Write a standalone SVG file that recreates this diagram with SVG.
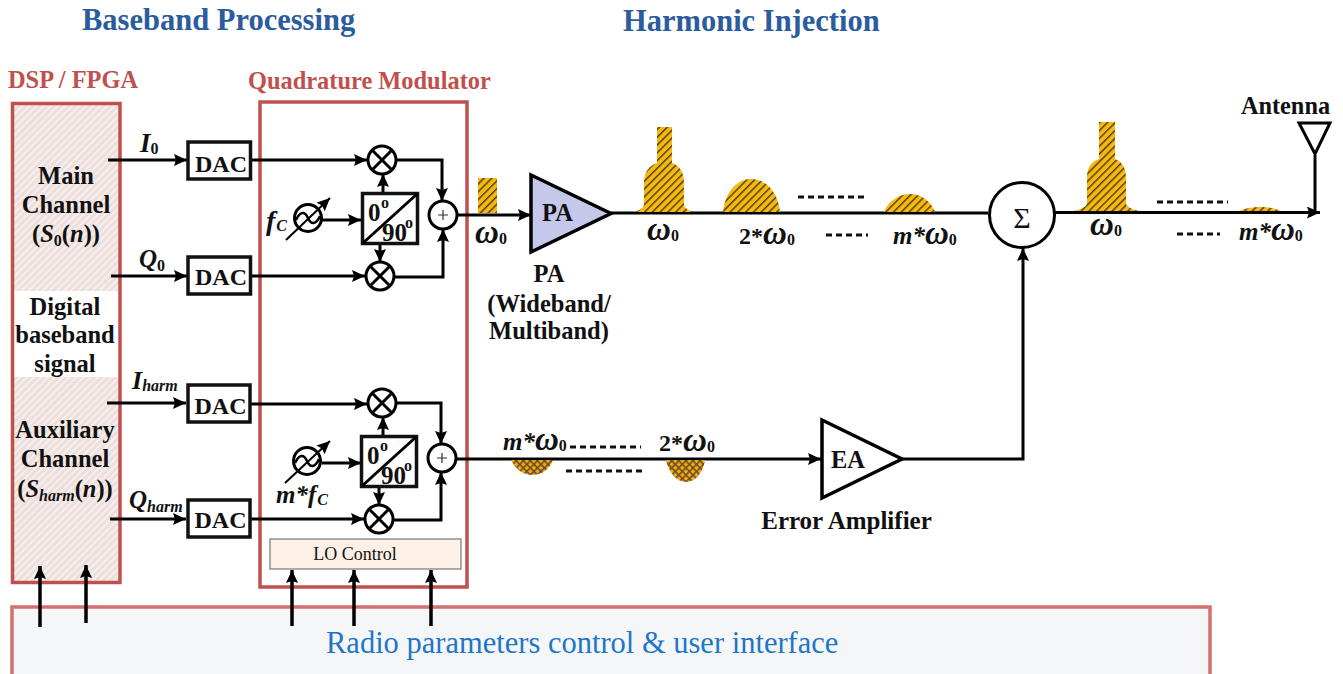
<svg xmlns="http://www.w3.org/2000/svg" width="1343" height="674" viewBox="0 0 1343 674">
<style>
text{font-family:"Liberation Serif","Times New Roman",serif;font-weight:bold;fill:#111}
.title{font-size:30.500px;fill:#2b5c9e}
.red{fill:#c0504d;font-size:24.400px}
.t22{font-size:24.500px;text-anchor:middle}
.lab{font-size:25px;font-style:italic}
.sub{font-size:16px}
.up{font-size:16px;font-style:normal}
.om{font-size:25px;font-style:italic}
.w{font-size:33px}
.dac{font-size:24px;text-anchor:middle}
.box{fill:#fff;stroke:#111;stroke-width:3.5}
.frame{stroke:#c0504d;stroke-width:3.5;fill:none}
.ln{fill:none;stroke:#000;stroke-width:3}
.ar{marker-end:url(#a)}
.ring{fill:#fff;stroke:#000;stroke-width:3}
.dash{fill:none;stroke:#111;stroke-width:3;stroke-dasharray:6 4}
.hat{fill:url(#h);stroke:none}
.cross{fill:url(#c);stroke:none}
</style>
<defs>
<marker id="a" markerUnits="userSpaceOnUse" markerWidth="14" markerHeight="12" refX="13" refY="6" orient="auto"><path d="M0 0L13 6L0 12L2 6Z" fill="#000"/></marker>
<pattern id="h" width="5.500" height="5.500" patternUnits="userSpaceOnUse" patternTransform="rotate(45)"><rect width="5.500" height="5.500" fill="#f6b90f"/><rect width="1.400" height="5.500" fill="#4a3a12"/></pattern>
<pattern id="c" width="5" height="5" patternUnits="userSpaceOnUse" patternTransform="rotate(45)"><rect width="5" height="5" fill="#f0b010"/><rect width="1.600" height="5" fill="#6a4a2a"/><rect width="5" height="1.600" fill="#6a4a2a"/></pattern>
<pattern id="p" width="5" height="5" patternUnits="userSpaceOnUse" patternTransform="rotate(45)"><rect width="5" height="5" fill="#eddfdc"/><rect width="1.500" height="5" fill="#f9f4f3"/></pattern>
<path id="sine" d="M-12 2C-8 -7 -3 -7 0 0C3 7 8 7 12 -2" fill="none" stroke="#000" stroke-width="2.500"/>
</defs>

<text class="title" x="82" y="30">Baseband Processing</text>
<text class="title" x="623" y="31">Harmonic Injection</text>

<g id="interface">
<rect x="12" y="607" width="1198" height="80" fill="#f5f6f8" stroke="#d2726e" stroke-width="3.5"/>
<text x="326" y="653" style="font-size:30.500px;font-weight:normal;fill:#1f76c6">Radio parameters control &amp; user interface</text>
</g>

<g id="dsp">
<rect x="13" y="104" width="107" height="187" fill="url(#p)"/>
<rect x="13" y="377" width="107" height="205" fill="url(#p)"/>
<rect class="frame" x="12.500" y="103.500" width="107.500" height="479"/>
<text class="red" x="8" y="88">DSP / FPGA</text>
<text class="t22" x="66" y="184">Main</text>
<text class="t22" x="66" y="213">Channel</text>
<text class="t22" x="66" y="242">(<tspan font-style="italic">S</tspan><tspan class="sub" dy="4">0</tspan><tspan dy="-4">(</tspan><tspan font-style="italic">n</tspan>))</text>
<text class="t22" x="65" y="315">Digital</text>
<text class="t22" x="65" y="343">baseband</text>
<text class="t22" x="65" y="372">signal</text>
<text class="t22" x="65" y="438">Auxiliary</text>
<text class="t22" x="65" y="467">Channel</text>
<text class="t22" x="65" y="497">(<tspan font-style="italic">S</tspan><tspan class="sub" font-style="italic" dy="4">harm</tspan><tspan dy="-4">(</tspan><tspan font-style="italic">n</tspan>))</text>
</g>

<g id="quadmod">
<rect class="frame" x="260" y="102" width="207" height="485"/>
<text class="red" x="248" y="89">Quadrature Modulator</text>
</g>

<g id="lo-control">
<rect x="270" y="539" width="191" height="30" fill="#fdf0e6" stroke="#777" stroke-width="1.200"/>
<text x="355" y="560" text-anchor="middle" style="font-size:18px;font-weight:normal">LO Control</text>
</g>

<g id="connectors">
<path class="ln ar" d="M108 160H187"/>
<path class="ln ar" d="M111 276H187"/>
<path class="ln ar" d="M107 403H186"/>
<path class="ln ar" d="M110 519H186"/>
<path class="ln ar" d="M251 160H367"/>
<path class="ln ar" d="M250 276H365"/>
<path class="ln ar" d="M250 404H367"/>
<path class="ln ar" d="M250 519H364"/>
<path class="ln ar" d="M397 160H442V201"/>
<path class="ln ar" d="M395 277H443V229"/>
<path class="ln ar" d="M397 403H441V444"/>
<path class="ln ar" d="M394 520H441V472"/>
<path class="ln ar" d="M383 193V174"/>
<path class="ln ar" d="M380 243V262"/>
<path class="ln ar" d="M383 437V417"/>
<path class="ln ar" d="M379 486V505"/>
<path class="ln ar" d="M322 220H361"/>
<path class="ln ar" d="M322 463H361"/>
<path class="ln ar" d="M457 215H531"/>
<path class="ln" d="M611 213H988"/>
<path class="ln ar" d="M1055 212.500H1320"/>
<path class="ln" d="M1315 155V212"/>
<path class="ln ar" d="M457 459H821"/>
<path class="ln ar" d="M902 459H1023V248"/>
<path class="ln ar" d="M40 627V566" style="stroke-width:3.500"/>
<path class="ln ar" d="M86 623V565" style="stroke-width:3.500"/>
<path class="ln ar" d="M292 626V570" style="stroke-width:3.500"/>
<path class="ln ar" d="M354 626V570" style="stroke-width:3.500"/>
<path class="ln ar" d="M431 626V570" style="stroke-width:3.500"/>
</g>

<g id="dac1"><rect class="box" x="188" y="142" width="62.500" height="37"/><text class="dac" x="221" y="172">DAC</text></g>
<g id="dac2"><rect class="box" x="188" y="257" width="62.500" height="37"/><text class="dac" x="221" y="285">DAC</text></g>
<g id="dac3"><rect class="box" x="188" y="385" width="62" height="37"/><text class="dac" x="220.500" y="414">DAC</text></g>
<g id="dac4"><rect class="box" x="188" y="500" width="62" height="37"/><text class="dac" x="220.500" y="528">DAC</text></g>

<g id="mix1"><circle class="ring" cx="382" cy="160" r="14"/><path class="ln" d="M372 150L392 170M392 150L372 170"/></g>
<g id="mix2"><circle class="ring" cx="380" cy="276" r="14"/><path class="ln" d="M370 266L390 286M390 266L370 286"/></g>
<g id="mix3"><circle class="ring" cx="382" cy="403" r="14"/><path class="ln" d="M372 393L392 413M392 393L372 413"/></g>
<g id="mix4"><circle class="ring" cx="379" cy="519" r="14"/><path class="ln" d="M369 509L389 529M389 509L369 529"/></g>

<g id="sum1"><circle class="ring" cx="443" cy="215" r="14"/><path d="M438 215H448M443 210V220" stroke="#333" stroke-width="1.200"/></g>
<g id="sum2"><circle class="ring" cx="442" cy="458" r="14"/><path d="M437 458H447M442 453V463" stroke="#333" stroke-width="1.200"/></g>

<g id="phase1">
<rect class="box" x="362.500" y="193.500" width="55" height="50"/><path class="ln" d="M363 243L417 194"/>
<text x="368" y="221" style="font-size:25px">0</text><text x="381" y="208" style="font-size:16px">o</text>
<text x="382" y="241" style="font-size:25px">90</text><text x="405" y="228" style="font-size:16px">o</text>
</g>
<g id="phase2">
<rect class="box" x="361.500" y="436.500" width="55" height="50"/><path class="ln" d="M362 486L416 437"/>
<text x="367" y="464" style="font-size:25px">0</text><text x="380" y="451" style="font-size:16px">o</text>
<text x="381" y="484" style="font-size:25px">90</text><text x="404" y="471" style="font-size:16px">o</text>
</g>

<g id="osc1">
<circle class="ring" cx="308" cy="218" r="13.500"/><use href="#sine" x="308" y="218"/>
<path d="M286 240L330 198" class="ar" fill="none" stroke="#000" stroke-width="2"/>
<text class="lab" x="266" y="230" style="font-size:28px">f<tspan class="sub" dy="1" dx="1">C</tspan></text>
</g>
<g id="osc2">
<circle class="ring" cx="307" cy="461" r="13.500"/><use href="#sine" x="307" y="461"/>
<path d="M285 483L330 441" class="ar" fill="none" stroke="#000" stroke-width="2"/>
<text class="lab" x="276" y="503">m*f<tspan class="sub" dy="2" dx="1">C</tspan></text>
</g>

<g id="signal-labels">
<text class="lab" x="140" y="152" style="font-size:27px">I<tspan class="up" dy="2">0</tspan></text>
<text class="lab" x="139" y="267">Q<tspan class="up" dy="4">0</tspan></text>
<text class="lab" x="132" y="389" style="font-size:26px">I<tspan class="sub" dy="2">harm</tspan></text>
<text class="lab" x="129" y="508">Q<tspan class="sub" dy="4">harm</tspan></text>
</g>

<g id="spectrum">
<rect class="hat" x="478" y="178" width="19" height="35"/>
<path class="hat" d="M634 212C640 210 644 208 644 204V182C644 172 650 165 657 163V127H672V163C679 165 684 172 684 182V204C684 208 688 210 693 212Z"/>
<path class="hat" d="M723 212C725 192 737 179 751 179C766 179 778 192 780 212Z"/>
<path class="hat" d="M884 212C888 201 899 194 910 194C921 194 931 201 935 212Z"/>
<path class="hat" d="M1074 211C1081 209 1087 207 1087 203V177C1087 167 1092 161 1099 159V122H1115V159C1121 161 1126 167 1126 177V203C1126 207 1132 209 1139 211Z"/>
<path class="hat" d="M1239 211C1246 208 1253 207 1260 207C1267 207 1275 208 1281 211Z"/>
<path class="cross" d="M511 460C516 470 524 475 532 475C541 475 549 470 553 460Z"/>
<path class="cross" d="M666 460C669 473 677 482 686 482C695 482 703 473 705 460Z"/>
<path class="dash" d="M798 197H868"/>
<path class="dash" d="M826 235H868"/>
<path class="dash" d="M1157 202H1228"/>
<path class="dash" d="M1177 234H1220"/>
<path class="dash" d="M570 447H641"/>
<path class="dash" d="M566 471H646"/>
<text class="om" x="475" y="243"><tspan class="w">ω</tspan><tspan class="up" dy="1">0</tspan></text>
<text class="om" x="647" y="240"><tspan class="w">ω</tspan><tspan class="up" dy="1">0</tspan></text>
<text class="om" x="739" y="244"><tspan font-style="normal" font-size="24">2*</tspan><tspan class="w">ω</tspan><tspan class="up" dy="1">0</tspan></text>
<text class="om" x="893" y="244">m*<tspan class="w">ω</tspan><tspan class="up" dy="1">0</tspan></text>
<text class="om" x="1090" y="235"><tspan class="w">ω</tspan><tspan class="up" dy="1">0</tspan></text>
<text class="om" x="1239" y="240">m*<tspan class="w">ω</tspan><tspan class="up" dy="1">0</tspan></text>
<text class="om" x="503" y="450">m*<tspan class="w">ω</tspan><tspan class="up" dy="1">0</tspan></text>
<text class="om" x="659" y="451"><tspan font-style="normal" font-size="24">2*</tspan><tspan class="w">ω</tspan><tspan class="up" dy="1">0</tspan></text>
</g>

<g id="pa">
<path d="M531 175L611 213.500L531 252Z" fill="#c5c8eb" stroke="#000" stroke-width="3.500"/>
<text x="542" y="221" style="font-size:24.500px">PA</text>
<text class="t22" x="549" y="282">PA</text>
<text class="t22" x="549" y="312">(Wideband/</text>
<text class="t22" x="549" y="339">Multiband)</text>
</g>

<g id="combiner">
<circle class="ring" cx="1022" cy="215" r="32.500"/>
<text x="1022" y="228" text-anchor="middle" style="font-size:30px;font-weight:normal">Σ</text>
</g>

<g id="ea">
<path d="M822 420L902 459L822 498Z" fill="#fff" stroke="#000" stroke-width="3.500"/>
<text x="831" y="468" style="font-size:24.500px">EA</text>
<text x="846.500" y="529" text-anchor="middle" style="font-size:25px">Error Amplifier</text>
</g>

<g id="antenna">
<path d="M1299 123H1330L1315 154Z" fill="#fff" stroke="#000" stroke-width="3"/>
<text x="1285.500" y="114" text-anchor="middle" style="font-size:24.300px">Antenna</text>
</g>
</svg>
